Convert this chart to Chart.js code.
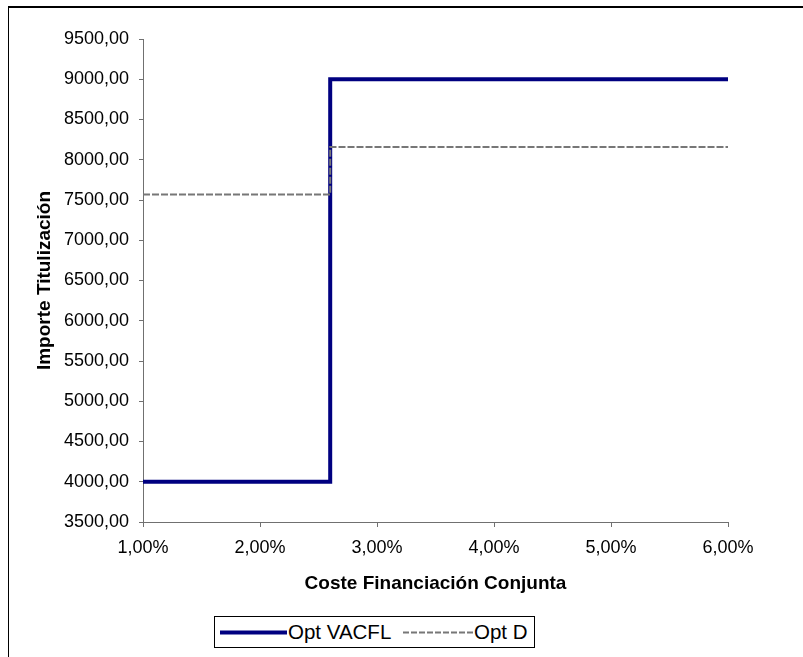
<!DOCTYPE html>
<html>
<head>
<meta charset="utf-8">
<script src="https://cdn.jsdelivr.net/npm/chart.js@4.4.1/dist/chart.umd.min.js"></script>
<style>
  body { margin: 0; background: #fff; }
  #wrap { position: relative; width: 803px; height: 657px; overflow: hidden; background: #fff; }
  #frame { position: absolute; left: 8px; top: 6px; width: 900px; height: 700px;
           border-left: 1px solid #000; border-top: 2px solid #000; }
  #chart { position: absolute; left: 0; top: 0; }
  #legend { position: absolute; left: 214px; top: 616px; width: 319px; height: 30px;
            border: 1px solid #000; background: #fff;
            font-family: "Liberation Sans", Arial, sans-serif; font-size: 20.5px; color: #000; }
  #legend .it { position: absolute; top: 0; height: 30px; line-height: 30px; white-space: nowrap; }
  #legend svg { position: absolute; top: 0; }
</style>
</head>
<body>
<div id="wrap">
  <div id="frame"></div>
  <canvas id="chart" width="803" height="657"></canvas>
  <div id="legend">
    <svg style="left:5px" width="68" height="30"><line x1="0" y1="15.5" x2="67" y2="15.5" stroke="#000080" stroke-width="4"/></svg>
    <span class="it" style="left:73px">Opt VACFL</span>
    <svg style="left:188px" width="70" height="30"><line x1="0" y1="15.5" x2="70" y2="15.5" stroke="#777" stroke-width="2" stroke-dasharray="6,2"/></svg>
    <span class="it" style="left:259px">Opt D</span>
  </div>
</div>
<script>
// coste financiación conjunta (%), step points
const costeVACFL = [1.0, 2.6, 2.6, 6.0];
const optVACFL = [4000, 4000, 9000, 9000];
const costeD = [1.0, 2.6, 2.6, 6.0];
const optD = [7567, 7567, 8157, 8157];

const yTicks = [3500, 4000, 4500, 5000, 5500, 6000, 6500, 7000, 7500, 8000, 8500, 9000, 9500];
const xTicks = [1, 2, 3, 4, 5, 6];

const toPts = (xs, ys) => xs.map((x, i) => ({ x: x, y: ys[i] }));
const fontTick = { family: "'Liberation Sans', Arial, sans-serif", size: 18 };
const fontTitle = { family: "'Liberation Sans', Arial, sans-serif", size: 19, weight: "bold" };

const ctx = document.getElementById("chart").getContext("2d");
const chart = new Chart(ctx, {
  type: "scatter",
  data: {
    datasets: [
      {
        label: "Opt VACFL",
        data: toPts(costeVACFL, optVACFL),
        showLine: true,
        borderColor: "#000080",
        borderWidth: 4,
        pointRadius: 0,
        borderJoinStyle: "miter",
        order: 2,
      },
      {
        label: "Opt D",
        data: toPts(costeD, optD),
        showLine: true,
        borderColor: "#777777",
        borderWidth: 2,
        borderDash: [7, 2],
        pointRadius: 0,
        order: 1,
      },
    ],
  },
  options: {
    responsive: false,
    animation: false,
    layout: { padding: { top: 39, right: 75, bottom: 0, left: 0 } },
    plugins: { legend: { display: false }, tooltip: { enabled: false } },
    scales: {
      x: {
        type: "linear",
        min: 1,
        max: 6,
        afterBuildTicks: (s) => { s.ticks = xTicks.map(v => ({ value: v })); },
        afterFit: (s) => { s.height = 135; },
        ticks: {
          color: "#000",
          font: fontTick,
          padding: 10,
          maxRotation: 0,
          callback: (v) => v.toFixed(2).replace(".", ",") + "%",
        },
        grid: { drawOnChartArea: false, tickLength: 5, color: "#707070" },
        border: { color: "#707070", width: 1 },
        title: {
          display: true,
          text: "Coste Financiación Conjunta",
          color: "#000",
          font: fontTitle,
          padding: { top: 0, bottom: 62 },
        },
      },
      y: {
        min: 3500,
        max: 9500,
        afterBuildTicks: (s) => { s.ticks = yTicks.map(v => ({ value: v })); },
        afterFit: (s) => { s.width = 143; },
        ticks: {
          color: "#000",
          font: fontTick,
          padding: 10,
          callback: (v) => v.toFixed(2).replace(".", ","),
        },
        grid: { drawOnChartArea: false, tickLength: 4, color: "#707070" },
        border: { color: "#707070", width: 1 },
        title: {
          display: true,
          text: "Importe Titulización",
          color: "#000",
          font: fontTitle,
          padding: { top: 33, bottom: 0 },
        },
      },
    },
  },
});
</script>
</body>
</html>
